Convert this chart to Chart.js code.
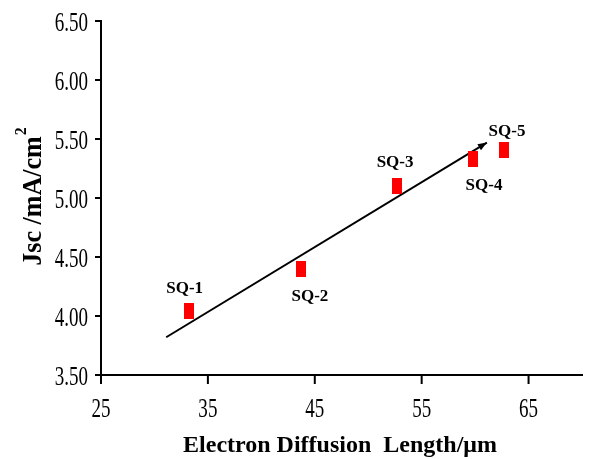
<!DOCTYPE html>
<html>
<head>
<meta charset="utf-8">
<script src="https://cdn.jsdelivr.net/npm/chart.js@4.4.1/dist/chart.umd.min.js"></script>
<style>
    html, body { margin: 0; padding: 0; background: #fff; }
    canvas { display: block; }
</style>
</head>
<body>
<canvas id="chart" width="589" height="459"></canvas>
<script>
// Data
const samples = ['SQ-1', 'SQ-2', 'SQ-3', 'SQ-4', 'SQ-5'];
const diffLength = [33.2, 43.7, 52.7, 59.8, 62.7];
const jsc = [4.04, 4.40, 5.10, 5.33, 5.41];
const trendX = [31.1, 61.1];
const trendY = [3.82, 5.47];
const xTicks = [25, 35, 45, 55, 65];
const yTicks = [3.5, 4.0, 4.5, 5.0, 5.5, 6.0, 6.5];

// label placement relative to each marker (px)
const labelOffsets = [[-4, -23], [9, 28], [-2, -24], [11, 27], [3, -18]];

const serif = '"Liberation Serif", "Times New Roman", serif';

// red rectangular marker
const mark = document.createElement('canvas');
mark.width = 10;
mark.height = 16;
const mctx = mark.getContext('2d');
mctx.fillStyle = '#ff0000';
mctx.fillRect(0, 0, 10, 16);

const decorPlugin = {
    id: 'decor',
    afterDraw(chart) {
        const ctx = chart.ctx;
        const xs = chart.scales.x;
        const ys = chart.scales.y;
        const area = chart.chartArea;
        ctx.save();
        ctx.strokeStyle = '#000';
        ctx.fillStyle = '#000';
        ctx.lineWidth = 2;

        // y ticks + labels (narrow serif look)
        yTicks.forEach(v => {
            const py = ys.getPixelForValue(v);
            ctx.beginPath();
            ctx.moveTo(area.left - 6, py);
            ctx.lineTo(area.left, py);
            ctx.stroke();
            ctx.save();
            ctx.translate(88, py + 3);
            ctx.scale(0.68, 1);
            ctx.font = '28px ' + serif;
            ctx.textAlign = 'right';
            ctx.textBaseline = 'middle';
            ctx.fillText(v.toFixed(2), 0, 0);
            ctx.restore();
        });

        // x ticks + labels
        xTicks.forEach(v => {
            const px = xs.getPixelForValue(v);
            ctx.beginPath();
            ctx.moveTo(px, area.bottom);
            ctx.lineTo(px, area.bottom + 9);
            ctx.stroke();
            ctx.save();
            ctx.translate(px, 410);
            ctx.scale(0.68, 1);
            ctx.font = '28px ' + serif;
            ctx.textAlign = 'center';
            ctx.textBaseline = 'middle';
            ctx.fillText(String(v), 0, 0);
            ctx.restore();
        });

        // arrow head at end of trend line
        const meta = chart.getDatasetMeta(1);
        const p0 = meta.data[0], p1 = meta.data[1];
        const ang = Math.atan2(p1.y - p0.y, p1.x - p0.x);
        const len = 9, wid = 3.5;
        ctx.beginPath();
        ctx.moveTo(p1.x, p1.y);
        ctx.lineTo(p1.x - len * Math.cos(ang) + wid * Math.sin(ang), p1.y - len * Math.sin(ang) - wid * Math.cos(ang));
        ctx.lineTo(p1.x - len * Math.cos(ang) - wid * Math.sin(ang), p1.y - len * Math.sin(ang) + wid * Math.cos(ang));
        ctx.closePath();
        ctx.fill();

        // sample labels
        const pts = chart.getDatasetMeta(0).data;
        ctx.font = 'bold 17px ' + serif;
        ctx.textAlign = 'center';
        ctx.textBaseline = 'middle';
        pts.forEach((pt, i) => {
            ctx.fillText(samples[i], pt.x + labelOffsets[i][0], pt.y + labelOffsets[i][1]);
        });

        // x axis title
        ctx.font = 'bold 24px ' + serif;
        ctx.textAlign = 'center';
        ctx.fillText('Electron Diffusion  Length/\u03bcm', 340, 446);

        // y axis title with superscript
        ctx.save();
        ctx.translate(33, 197);
        ctx.rotate(-Math.PI / 2);
        ctx.scale(0.93, 1);
        ctx.font = 'bold 28px ' + serif;
        const main = 'Jsc /mA/cm';
        const w1 = ctx.measureText(main).width;
        ctx.font = 'bold 17px ' + serif;
        const w2 = ctx.measureText('2').width;
        const start = -(w1 + w2) / 2;
        ctx.textAlign = 'left';
        ctx.font = 'bold 28px ' + serif;
        ctx.fillText(main, start, 1);
        ctx.font = 'bold 17px ' + serif;
        ctx.fillText('2', start + w1 + 1, -11);
        ctx.restore();

        ctx.restore();
    }
};

const ctx = document.getElementById('chart').getContext('2d');
new Chart(ctx, {
    type: 'scatter',
    data: {
        datasets: [{
            label: 'Jsc',
            data: diffLength.map((x, i) => ({ x: x, y: jsc[i] })),
            pointStyle: mark,
            pointRadius: 6,
            showLine: false
        }, {
            label: 'trend',
            data: trendX.map((x, i) => ({ x: x, y: trendY[i] })),
            showLine: true,
            borderColor: '#000',
            borderWidth: 2,
            pointRadius: 0
        }]
    },
    options: {
        responsive: false,
        animation: false,
        devicePixelRatio: 1,
        layout: { padding: { left: 0, top: 21, right: 3, bottom: 0 } },
        plugins: {
            legend: { display: false },
            tooltip: { enabled: false }
        },
        scales: {
            x: {
                type: 'linear',
                min: 25,
                max: 70,
                grid: { display: false },
                border: { display: true, color: '#000', width: 2 },
                ticks: { display: false },
                afterFit(scale) { scale.height = 84; }
            },
            y: {
                type: 'linear',
                min: 3.5,
                max: 6.5,
                grid: { display: false },
                border: { display: true, color: '#000', width: 2 },
                ticks: { display: false },
                afterFit(scale) { scale.width = 101; }
            }
        }
    },
    plugins: [decorPlugin]
});
</script>
</body>
</html>
